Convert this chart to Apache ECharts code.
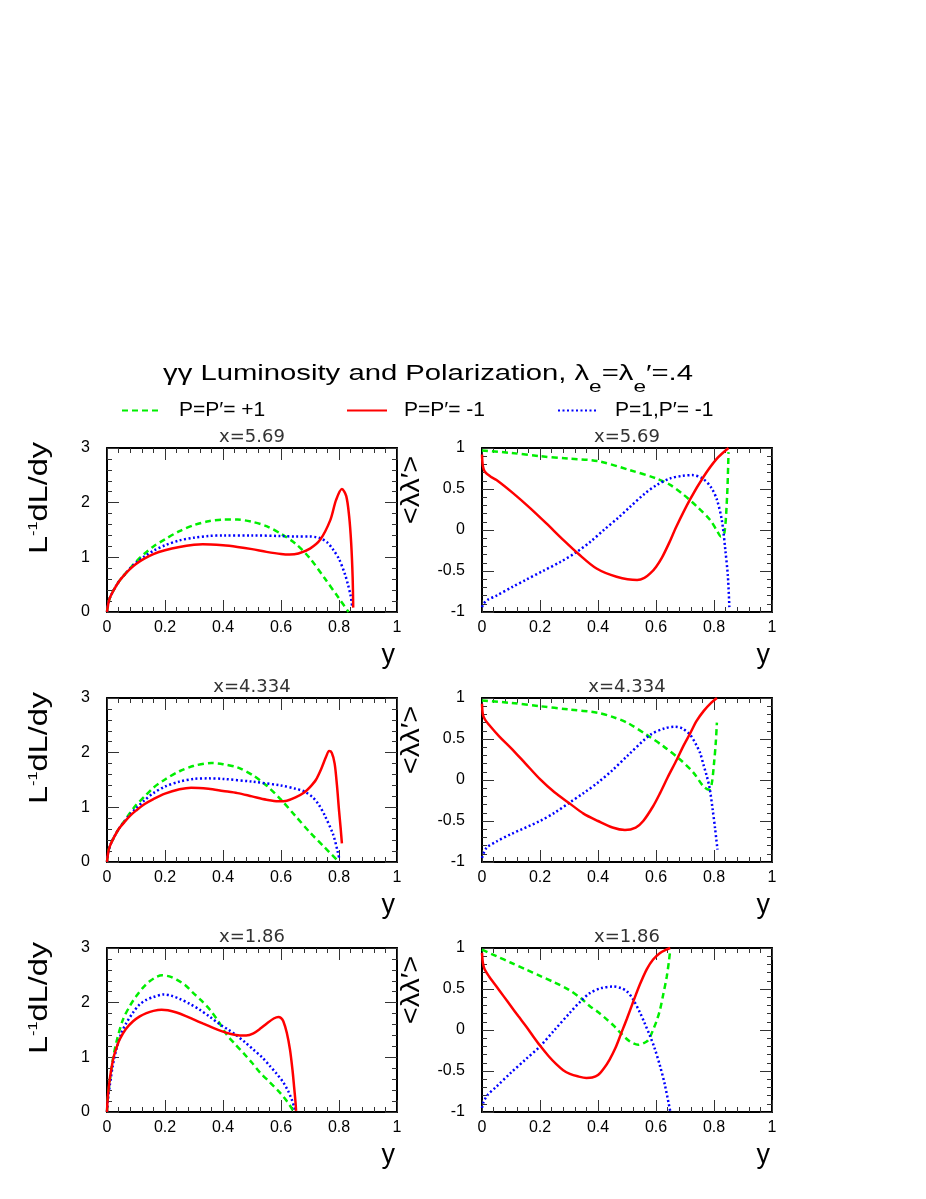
<!DOCTYPE html>
<html>
<head>
<meta charset="utf-8">
<script src="https://cdn.jsdelivr.net/npm/echarts@6/dist/echarts.min.js"></script>
<style>
html, body { margin: 0; padding: 0; background: #fff; }
#chart { width: 926px; height: 1199px; }
</style>
</head>
<body>
<div id="chart"></div>
<script>
const FONT = 'Liberation Sans, Arial, sans-serif'

const seriesNames = ['P=P′= +1', 'P=P′= -1', 'P=1,P′= -1']
const seriesColors = ['#00ee00', '#ff0000', '#0000ff']
const xValues = ['5.69', '4.334', '1.86']

// luminosity spectra L^-1 dL/dy, x = 5.69
const lum569Plus = [[0,0],[0.005,0.17],[0.01,0.26],[0.02,0.37],[0.04,0.55],[0.06,0.68],[0.08,0.8],[0.1,0.92],[0.13,1.07],[0.16,1.2],[0.2,1.33],[0.25,1.48],[0.3,1.59],[0.35,1.66],[0.4,1.69],[0.45,1.69],[0.5,1.65],[0.55,1.57],[0.6,1.43],[0.65,1.25],[0.7,0.98],[0.75,0.62],[0.8,0.25],[0.833,0]]
const lum569Minus = [[0,0],[0.005,0.17],[0.01,0.26],[0.02,0.37],[0.04,0.55],[0.06,0.68],[0.08,0.79],[0.1,0.88],[0.13,0.98],[0.16,1.06],[0.2,1.13],[0.25,1.19],[0.3,1.23],[0.33,1.24],[0.4,1.22],[0.45,1.19],[0.5,1.15],[0.55,1.1],[0.6,1.06],[0.63,1.05],[0.66,1.07],[0.7,1.16],[0.735,1.32],[0.77,1.68],[0.79,2.05],[0.81,2.25],[0.825,2.12],[0.835,1.75],[0.842,1.26],[0.847,0.64],[0.849,0.08]]
const lum569Mixed = [[0,0],[0.005,0.17],[0.01,0.26],[0.02,0.37],[0.04,0.55],[0.06,0.68],[0.08,0.8],[0.1,0.9],[0.13,1.02],[0.16,1.12],[0.2,1.22],[0.25,1.31],[0.3,1.36],[0.35,1.39],[0.4,1.4],[0.5,1.4],[0.6,1.39],[0.65,1.38],[0.7,1.38],[0.72,1.37],[0.74,1.34],[0.76,1.27],[0.78,1.14],[0.8,0.97],[0.82,0.7],[0.83,0.52],[0.84,0.3],[0.846,0.08]]

// mean helicity <λλ'>, x = 5.69
const pol569Plus = [[0,0.97],[0.1,0.94],[0.2,0.9],[0.3,0.87],[0.4,0.84],[0.51,0.73],[0.6,0.63],[0.649,0.55],[0.695,0.43],[0.74,0.29],[0.787,0.12],[0.812,-0.02],[0.824,-0.08],[0.836,-0.03],[0.845,0.4],[0.849,0.8],[0.85,0.95]]
const pol569Minus = [[0,0.92],[0.003,0.78],[0.01,0.71],[0.03,0.65],[0.05,0.61],[0.107,0.45],[0.165,0.27],[0.222,0.08],[0.28,-0.12],[0.332,-0.29],[0.395,-0.47],[0.464,-0.57],[0.535,-0.61],[0.56,-0.585],[0.58,-0.53],[0.6,-0.45],[0.62,-0.34],[0.645,-0.16],[0.67,0.04],[0.717,0.37],[0.764,0.65],[0.81,0.87],[0.85,1.0]]
const pol569Mixed = [[0,-0.94],[0.005,-0.9],[0.02,-0.85],[0.05,-0.8],[0.107,-0.69],[0.15,-0.61],[0.21,-0.5],[0.27,-0.39],[0.326,-0.27],[0.375,-0.14],[0.42,0],[0.47,0.15],[0.51,0.28],[0.56,0.44],[0.603,0.55],[0.649,0.63],[0.69,0.66],[0.725,0.67],[0.76,0.63],[0.79,0.52],[0.81,0.37],[0.827,0.12],[0.839,-0.24],[0.848,-0.57],[0.853,-0.94]]

// luminosity spectra, x = 4.334
const lum4334Plus = [[0,0],[0.005,0.2],[0.01,0.29],[0.02,0.41],[0.04,0.6],[0.06,0.75],[0.08,0.9],[0.1,1.04],[0.13,1.2],[0.16,1.36],[0.2,1.51],[0.25,1.66],[0.3,1.76],[0.36,1.81],[0.4,1.79],[0.45,1.73],[0.505,1.58],[0.55,1.4],[0.6,1.14],[0.65,0.84],[0.7,0.54],[0.75,0.27],[0.8,0]]
const lum4334Minus = [[0,0],[0.005,0.2],[0.01,0.29],[0.02,0.41],[0.04,0.6],[0.06,0.73],[0.08,0.85],[0.1,0.94],[0.13,1.06],[0.16,1.15],[0.2,1.25],[0.25,1.33],[0.29,1.36],[0.35,1.34],[0.4,1.3],[0.45,1.26],[0.5,1.2],[0.55,1.14],[0.59,1.11],[0.62,1.12],[0.65,1.18],[0.68,1.27],[0.7,1.37],[0.72,1.5],[0.74,1.72],[0.755,1.92],[0.766,2.03],[0.775,2.0],[0.785,1.8],[0.793,1.4],[0.8,0.95],[0.806,0.6],[0.81,0.34]]
const lum4334Mixed = [[0,0],[0.005,0.2],[0.01,0.29],[0.02,0.41],[0.04,0.6],[0.06,0.74],[0.08,0.87],[0.1,0.98],[0.13,1.13],[0.16,1.26],[0.2,1.38],[0.25,1.47],[0.3,1.52],[0.35,1.53],[0.4,1.52],[0.5,1.47],[0.6,1.4],[0.65,1.34],[0.68,1.29],[0.71,1.18],[0.73,1.05],[0.75,0.86],[0.78,0.5],[0.795,0.2],[0.802,0.04]]

// mean helicity, x = 4.334
const pol4334Plus = [[0,0.97],[0.1,0.94],[0.2,0.9],[0.3,0.86],[0.4,0.82],[0.45,0.77],[0.5,0.7],[0.568,0.55],[0.626,0.41],[0.683,0.25],[0.729,0.09],[0.764,-0.08],[0.783,-0.12],[0.792,-0.05],[0.8,0.2],[0.806,0.45],[0.81,0.7]]
const pol4334Minus = [[0,0.93],[0.003,0.8],[0.01,0.74],[0.03,0.65],[0.06,0.53],[0.1,0.39],[0.15,0.2],[0.2,0.01],[0.25,-0.15],[0.3,-0.28],[0.35,-0.41],[0.4,-0.5],[0.45,-0.58],[0.493,-0.61],[0.53,-0.58],[0.556,-0.5],[0.59,-0.32],[0.614,-0.16],[0.64,0.03],[0.672,0.25],[0.695,0.42],[0.718,0.57],[0.74,0.72],[0.764,0.84],[0.79,0.94],[0.81,1.0]]
const pol4334Mixed = [[0,-0.95],[0.015,-0.83],[0.05,-0.75],[0.1,-0.66],[0.2,-0.5],[0.25,-0.4],[0.3,-0.28],[0.35,-0.16],[0.4,-0.03],[0.45,0.12],[0.5,0.29],[0.58,0.55],[0.63,0.63],[0.666,0.65],[0.69,0.63],[0.718,0.55],[0.74,0.42],[0.752,0.33],[0.765,0.17],[0.775,0.05],[0.785,-0.1],[0.795,-0.35],[0.804,-0.6],[0.812,-0.85]]

// luminosity spectra, x = 1.86
const lum186Plus = [[0,0],[0.003,0.25],[0.009,0.54],[0.02,0.95],[0.032,1.27],[0.055,1.69],[0.08,1.95],[0.101,2.12],[0.125,2.28],[0.147,2.39],[0.17,2.47],[0.19,2.5],[0.215,2.48],[0.24,2.42],[0.27,2.32],[0.297,2.18],[0.325,2.04],[0.355,1.87],[0.385,1.65],[0.412,1.42],[0.44,1.25],[0.47,1.08],[0.5,0.9],[0.528,0.72],[0.56,0.55],[0.597,0.35],[0.62,0.2],[0.645,0]]
const lum186Minus = [[0,0],[0.003,0.29],[0.01,0.62],[0.021,0.96],[0.03,1.13],[0.044,1.33],[0.065,1.52],[0.09,1.66],[0.113,1.75],[0.136,1.81],[0.16,1.85],[0.188,1.87],[0.21,1.86],[0.24,1.82],[0.27,1.76],[0.3,1.69],[0.33,1.62],[0.366,1.54],[0.395,1.48],[0.424,1.43],[0.458,1.4],[0.48,1.4],[0.505,1.44],[0.53,1.53],[0.551,1.62],[0.575,1.71],[0.591,1.74],[0.6,1.72],[0.608,1.66],[0.62,1.45],[0.631,1.14],[0.64,0.75],[0.645,0.47],[0.65,0.18],[0.652,0.02]]
const lum186Mixed = [[0,0],[0.003,0.22],[0.009,0.47],[0.02,0.85],[0.032,1.14],[0.05,1.45],[0.067,1.63],[0.09,1.82],[0.113,1.97],[0.135,2.05],[0.159,2.1],[0.196,2.15],[0.22,2.13],[0.25,2.07],[0.285,1.98],[0.32,1.87],[0.355,1.74],[0.39,1.6],[0.42,1.5],[0.447,1.4],[0.475,1.28],[0.505,1.14],[0.535,1.0],[0.562,0.84],[0.585,0.7],[0.608,0.54],[0.625,0.38],[0.637,0.23],[0.645,0.1],[0.649,0.02]]

// mean helicity, x = 1.86
const pol186Plus = [[0,0.98],[0.05,0.9],[0.1,0.82],[0.15,0.74],[0.2,0.66],[0.25,0.58],[0.3,0.49],[0.34,0.39],[0.372,0.29],[0.4,0.22],[0.43,0.13],[0.455,0.05],[0.476,-0.03],[0.51,-0.14],[0.539,-0.18],[0.568,-0.14],[0.58,-0.08],[0.591,0.01],[0.603,0.12],[0.614,0.25],[0.626,0.45],[0.637,0.65],[0.645,0.85],[0.649,0.98]]
const pol186Minus = [[0,0.94],[0.003,0.82],[0.009,0.74],[0.025,0.65],[0.05,0.53],[0.075,0.41],[0.1,0.29],[0.125,0.17],[0.153,0.04],[0.175,-0.07],[0.2,-0.19],[0.23,-0.32],[0.257,-0.42],[0.28,-0.49],[0.303,-0.535],[0.33,-0.565],[0.36,-0.585],[0.38,-0.58],[0.4,-0.55],[0.42,-0.47],[0.44,-0.36],[0.46,-0.22],[0.48,-0.04],[0.5,0.14],[0.522,0.35],[0.545,0.56],[0.568,0.74],[0.59,0.86],[0.614,0.94],[0.635,0.98],[0.649,1.0]]
const pol186Mixed = [[0,-0.95],[0.005,-0.88],[0.02,-0.79],[0.05,-0.69],[0.1,-0.52],[0.15,-0.36],[0.2,-0.2],[0.25,0.0],[0.303,0.21],[0.34,0.35],[0.372,0.45],[0.41,0.51],[0.453,0.53],[0.48,0.51],[0.5,0.47],[0.52,0.38],[0.545,0.21],[0.56,0.09],[0.579,-0.07],[0.595,-0.22],[0.614,-0.44],[0.63,-0.66],[0.649,-0.99]]

const panels = [
	{ kind: 'lum', sets: [lum569Plus, lum569Minus, lum569Mixed] },
	{ kind: 'pol', sets: [pol569Plus, pol569Minus, pol569Mixed] },
	{ kind: 'lum', sets: [lum4334Plus, lum4334Minus, lum4334Mixed] },
	{ kind: 'pol', sets: [pol4334Plus, pol4334Minus, pol4334Mixed] },
	{ kind: 'lum', sets: [lum186Plus, lum186Minus, lum186Mixed] },
	{ kind: 'pol', sets: [pol186Plus, pol186Minus, pol186Mixed] },
]

const lineTypes = [[6, 4], 'solid', [2, 2.5]]
const colLeft = [107, 482]
const rowTop = [448, 698, 948]
const PW = 290
const PH = 164

const tickStyle = { color: '#333', width: 1 }

function xAxis(g, pos) {
	return {
		type: 'value', gridIndex: g, position: pos, min: 0, max: 1, interval: 0.2,
		axisLine: { onZero: false, lineStyle: { color: '#000', width: 2 } },
		axisTick: { inside: true, length: 12, lineStyle: tickStyle },
		minorTick: { show: true, splitNumber: 5, length: 5, lineStyle: tickStyle },
		axisLabel: { show: pos === 'bottom', color: '#000', fontSize: 16, fontFamily: FONT, margin: 8 },
		splitLine: { show: false },
	}
}

function yAxis(g, pos, kind) {
	const lum = kind === 'lum'
	return {
		type: 'value', gridIndex: g, position: pos,
		min: lum ? 0 : -1, max: lum ? 3 : 1, interval: lum ? 1 : 0.5,
		axisLine: { onZero: false, lineStyle: { color: '#000', width: 2 } },
		axisTick: { inside: true, length: 12, lineStyle: tickStyle },
		minorTick: { show: true, splitNumber: 5, length: 5, lineStyle: tickStyle },
		axisLabel: { show: pos === 'left', color: '#000', fontSize: 16, fontFamily: FONT, margin: 17 },
		splitLine: { show: false },
	}
}

const grids = [], xAxes = [], yAxes = [], series = [], graphics = []

panels.forEach((p, i) => {
	const row = Math.floor(i / 2), col = i % 2
	grids.push({ left: colLeft[col], top: rowTop[row], width: PW, height: PH })
	xAxes.push(xAxis(i, 'bottom'), xAxis(i, 'top'))
	yAxes.push(yAxis(i, 'left', p.kind), yAxis(i, 'right', p.kind))
	p.sets.forEach((d, k) => {
		series.push({
			name: seriesNames[k], type: 'line', xAxisIndex: 2 * i, yAxisIndex: 2 * i,
			data: d, symbol: 'none', showSymbol: false, smooth: 0.3,
			itemStyle: { color: seriesColors[k] },
			lineStyle: { color: seriesColors[k], width: 2.5, type: lineTypes[k] },
			z: k === 1 ? 3 : 2,
		})
	})
	// panel title
	graphics.push({
		type: 'text', x: colLeft[col] + PW / 2, y: rowTop[row] - 11,
		style: { text: 'x=' + xValues[row], font: '18px DejaVu Sans', fill: '#333', textAlign: 'center', textVerticalAlign: 'middle' },
	})
	// x axis title
	graphics.push({
		type: 'text', x: colLeft[col] + PW - 2, y: rowTop[row] + 208,
		style: { text: 'y', font: '27px ' + FONT, fill: '#000', textAlign: 'right', textVerticalAlign: 'middle' },
	})
	// y axis title
	if (p.kind === 'lum') {
		graphics.push({
			type: 'text', x: 40, y: rowTop[row] + 50, rotation: Math.PI / 2, scaleX: 1.25,
			style: {
				text: '{n|L}{p|-1}{n|dL/dy}', textAlign: 'center', textVerticalAlign: 'middle',
				rich: {
					n: { fontSize: 26, fontFamily: FONT, fill: '#000', lineHeight: 26, verticalAlign: 'bottom', padding: [6, 0, 0, 0] },
					p: { fontSize: 13, fontFamily: FONT, fill: '#000', lineHeight: 13, verticalAlign: 'top' },
				},
			},
		})
	} else {
		graphics.push({
			type: 'text', x: 412, y: rowTop[row] + 42, rotation: Math.PI / 2, scaleX: 1.12,
			style: { text: '<λλ′>', font: '26px ' + FONT, fill: '#000', textAlign: 'center', textVerticalAlign: 'middle' },
		})
	}
})

// main title with subscripts
graphics.push({
	type: 'text', x: 163, y: 363, scaleX: 1.33,
	style: {
		text: '{t|γγ Luminosity and Polarization, λ}{s|e}{t|=λ}{s|e}{t|′=.4}',
		textAlign: 'left', textVerticalAlign: 'top',
		rich: {
			t: { fontSize: 22, fontFamily: FONT, fill: '#000', lineHeight: 22, verticalAlign: 'top' },
			s: { fontSize: 17, fontFamily: FONT, fill: '#000', lineHeight: 17, verticalAlign: 'top', padding: [16, 0, 0, 0] },
		},
	},
})

const legendLeft = [116, 341, 552]
const legends = seriesNames.map((n, k) => ({
	data: [n], left: legendLeft[k], top: 395, itemWidth: 40, itemHeight: 14, selectedMode: false,
	itemStyle: { opacity: 0 },
	textStyle: { fontSize: 21, fontFamily: FONT, color: '#000', padding: [0, 0, 0, 12] },
}))

const chart = echarts.init(document.getElementById('chart'), null, { renderer: 'canvas' })
chart.setOption({
	animation: false,
	backgroundColor: '#fff',
	legend: legends,
	grid: grids,
	xAxis: xAxes,
	yAxis: yAxes,
	series,
	graphic: { elements: graphics },
})
</script>
</body>
</html>
